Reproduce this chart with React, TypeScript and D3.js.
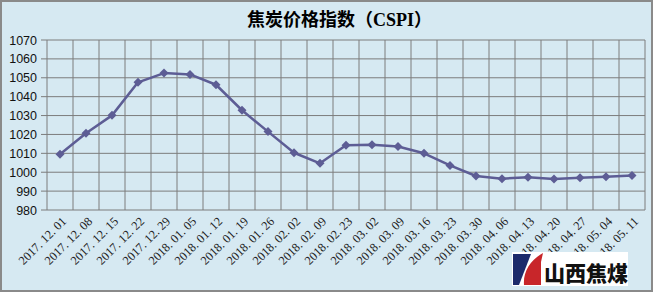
import React from "react";
import * as d3 from "d3";

const categories: string[] = [
  "2017.12.01", "2017.12.08", "2017.12.15", "2017.12.22", "2017.12.29",
  "2018.01.05", "2018.01.12", "2018.01.19", "2018.01.26", "2018.02.02",
  "2018.02.09", "2018.02.23", "2018.03.02", "2018.03.09", "2018.03.16",
  "2018.03.23", "2018.03.30", "2018.04.06", "2018.04.13", "2018.04.20",
  "2018.04.27", "2018.05.04", "2018.05.11",
];

const cspi: number[] = [
  1009.5, 1020.6, 1030.1, 1047.6, 1052.5, 1051.8, 1046.3, 1032.8, 1021.5,
  1010.3, 1004.7, 1014.3, 1014.6, 1013.6, 1010.0, 1003.6, 998.0, 996.6,
  997.3, 996.4, 997.1, 997.6, 998.3,
];

const yTicks: number[] = [980, 990, 1000, 1010, 1020, 1030, 1040, 1050, 1060, 1070];

const W = 653;
const H = 292;
const plotLeft = 47;
const plotRight = 645;
const plotTop = 40;
const plotBottom = 210;

const lineColor = "#5d5d95";
const gridColor = "#7c7c7c";

export default function App() {
  const x = d3.scaleBand<string>().domain(categories).range([plotLeft, plotRight]).padding(0);
  const y = d3.scaleLinear().domain([980, 1070]).range([plotBottom, plotTop]);
  const cx = (c: string) => (x(c) as number) + x.bandwidth() / 2;

  const line = d3
    .line<number>()
    .x((_, i) => cx(categories[i]))
    .y((d) => y(d));

  const vLines = categories.map((c) => x(c) as number).concat([plotRight]);

  return (
    <div style={{ position: "fixed", left: 0, top: 0 }}>
      <svg width={W} height={H} style={{ display: "block" }}>
        <rect x={1} y={1} width={W - 2} height={H - 2} fill="#d6e9f2" stroke="#8a8a8a" strokeWidth={2} />
        <text
          x={339.5}
          y={26}
          textAnchor="middle"
          fontFamily="'Noto Sans CJK SC'"
          fontWeight={700}
          fontSize={18}
          fill="#000"
        >
          焦炭价格指数（
          <tspan fontFamily="'Liberation Serif'" fontSize={18}>CSPI</tspan>）
        </text>

        {/* horizontal grid */}
        {yTicks.map((t) => (
          <g key={"h" + t}>
            <line x1={plotLeft - 6} x2={plotRight} y1={y(t)} y2={y(t)} stroke={gridColor} strokeWidth={1} />
            <text
              x={37}
              y={y(t)}
              dy="0.36em"
              textAnchor="end"
              fontFamily="'Liberation Sans'"
              fontSize={12.5}
              fill="#111"
            >
              {t}
            </text>
          </g>
        ))}
        {/* vertical grid */}
        {vLines.map((vx, i) => (
          <line key={"v" + i} x1={vx} x2={vx} y1={plotTop} y2={plotBottom} stroke={gridColor} strokeWidth={1} />
        ))}

        {/* x labels */}
        {categories.map((c) => (
          <text
            key={"xl" + c}
            transform={`translate(${cx(c) + 4},${plotBottom + 9}) rotate(-45)`}
            textAnchor="end"
            dy="0.35em"
            fontFamily="'Liberation Serif'"
            fontSize={12.3}
            fill="#222"
          >
            {c.replace(/\./g, ". ")}
          </text>
        ))}

        {/* series line */}
        <path d={line(cspi) || ""} fill="none" stroke={lineColor} strokeWidth={2.5} strokeLinejoin="round" />
        {cspi.map((v, i) => {
          const px = cx(categories[i]);
          const py = y(v);
          const r = 4.5;
          return (
            <path
              key={"m" + i}
              d={`M${px},${py - r}L${px + r},${py}L${px},${py + r}L${px - r},${py}Z`}
              fill={lineColor}
            />
          );
        })}

        {/* logo */}
        <g>
          <rect x={512} y={252} width={116} height={34} fill="#ffffff" />
          <path d="M513,254 L531,254 L519,285 L513,285 Z" fill="#1c2a6b" />
          <path d="M543,253 C530,260 523,272 524,285 L541,285 L541,262 Z" fill="#c8262a" />
          <text
            x={586}
            y={281}
            textAnchor="middle"
            fontFamily="'Noto Sans CJK SC'"
            fontWeight={900}
            fontSize={21}
            fill="#111"
          >
            山西焦煤
          </text>
        </g>
      </svg>
    </div>
  );
}
